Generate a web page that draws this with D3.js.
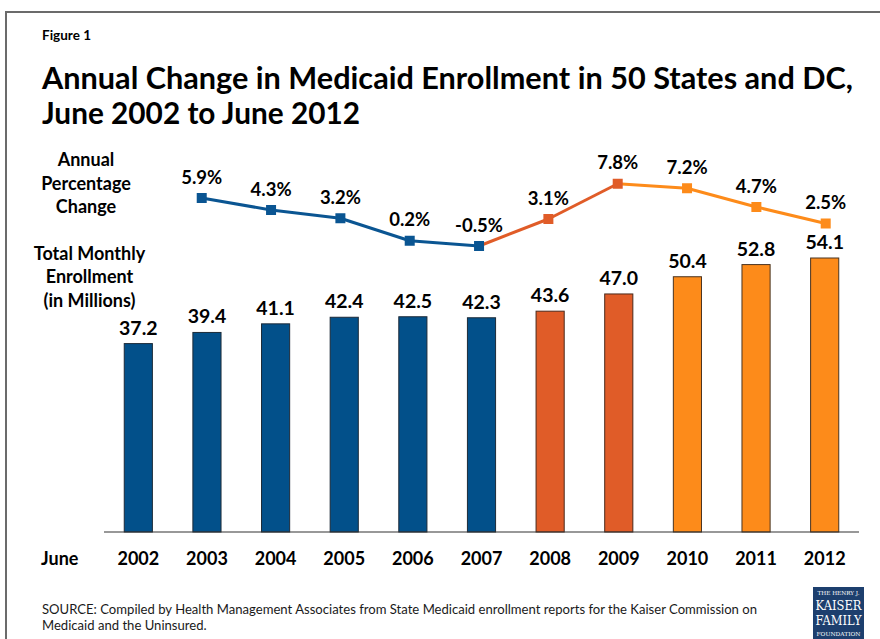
<!DOCTYPE html>
<html>
<head>
<meta charset="utf-8">
<script src="https://cdn.jsdelivr.net/npm/d3@7"></script>
<style>
  html, body { margin: 0; padding: 0; background: #fff; }
  svg { display: block; font-family: Lato, "Open Sans", sans-serif; }
</style>
</head>
<body>
<svg id="chart" width="880" height="639"></svg>
<script>
// ---- data ----
const years = ["2002","2003","2004","2005","2006","2007","2008","2009","2010","2011","2012"];
const enrollment = [37.2, 39.4, 41.1, 42.4, 42.5, 42.3, 43.6, 47.0, 50.4, 52.8, 54.1];
const pctYears = ["2003","2004","2005","2006","2007","2008","2009","2010","2011","2012"];
const pctChange = [5.9, 4.3, 3.2, 0.2, -0.5, 3.1, 7.8, 7.2, 4.7, 2.5];
const pctLabels = ["5.9%","4.3%","3.2%","0.2%","-0.5%","3.1%","7.8%","7.2%","4.7%","2.5%"];
const barLabels = ["37.2","39.4","41.1","42.4","42.5","42.3","43.6","47.0","50.4","52.8","54.1"];
const period = ["a","a","a","a","a","a","b","b","c","c","c"]; // colour group per year

const colors = { a: "#02508a", b: "#e05c28", c: "#fd8b1a" };
const lineColors = { a: "#0a5592", b: "#e05c28", c: "#fd8b1a" };
const strokes = { a: "#1c2a38", b: "#4a2a1c", c: "#4a3420" };

const svg = d3.select("#chart");

// frame
svg.append("path").attr("d", "M6,640 L6,12 L881,12")
  .attr("fill", "none").attr("stroke", "#6b6b6b").attr("stroke-width", 2);

// figure label + title
svg.append("text").attr("x", 42).attr("y", 39.5).attr("font-size", 13.5)
  .attr("font-weight", 700).attr("fill", "#000").text("Figure 1");

function fitText(sel, w) {
  sel.attr("textLength", w).attr("lengthAdjust", "spacingAndGlyphs");
}
const t1 = svg.append("text").attr("x", 42).attr("y", 88.5).attr("font-size", 30)
  .attr("font-weight", 700).attr("fill", "#000")
  .text("Annual Change in Medicaid Enrollment in 50 States and DC,");
fitText(t1, 811);
const t2 = svg.append("text").attr("x", 42).attr("y", 123.5).attr("font-size", 30)
  .attr("font-weight", 700).attr("fill", "#000").text("June 2002 to June 2012");
fitText(t2, 318);

// ---- scales ----
const x = d3.scaleBand().domain(years).range([104, 859]).paddingInner(0.59).paddingOuter(0.295);
const xLine = d3.scalePoint().domain(years).range([132.4, 825.7]);
const y = d3.scaleLinear().domain([0, 54.1]).range([532, 258]);
const yP = d3.scaleLinear().domain([-0.5, 7.8]).range([246, 183.75]);

// bars
const bars = years.map((yr, i) => ({ yr, v: enrollment[i], lab: barLabels[i], g: period[i] }));
svg.append("g").selectAll("rect").data(bars).join("rect")
  .attr("x", d => x(d.yr)).attr("width", x.bandwidth())
  .attr("y", d => y(d.v)).attr("height", d => y(0) - y(d.v))
  .attr("fill", d => colors[d.g]).attr("stroke", d => strokes[d.g]).attr("stroke-width", 1);

svg.append("g").selectAll("text").data(bars).join("text")
  .attr("x", d => x(d.yr) + x.bandwidth() / 2).attr("y", d => y(d.v) - 9)
  .attr("text-anchor", "middle").attr("font-size", 19.5).attr("font-weight", 700)
  .attr("fill", "#000").text(d => d.lab);

// axis baseline + year labels
const axis = d3.axisBottom(x).tickSize(0).tickPadding(0);
const ax = svg.append("g").attr("transform", "translate(0,532)").call(axis);
ax.select(".domain").attr("d", "M104,0H859").attr("stroke", "#333").attr("stroke-width", 1.2);
ax.selectAll(".tick text").attr("dy", 0).attr("y", 33).attr("font-size", 18)
  .attr("font-weight", 700).attr("fill", "#000").attr("font-family", "Lato, sans-serif");
svg.append("text").attr("x", 41).attr("y", 565).attr("font-size", 18)
  .attr("font-weight", 700).attr("fill", "#000").text("June");

// line
const pts = pctYears.map((yr, i) => ({ yr, v: pctChange[i], lab: pctLabels[i], g: period[years.indexOf(yr)] }));
const segs = d3.pairs(pts);
svg.append("g").selectAll("line").data(segs).join("line")
  .attr("x1", d => xLine(d[0].yr)).attr("y1", d => yP(d[0].v))
  .attr("x2", d => xLine(d[1].yr)).attr("y2", d => yP(d[1].v))
  .attr("stroke", d => lineColors[d[1].g]).attr("stroke-width", 3);
svg.append("g").selectAll("rect").data(pts).join("rect")
  .attr("x", d => xLine(d.yr) - 5).attr("y", d => yP(d.v) - 5)
  .attr("width", 10).attr("height", 10).attr("fill", d => lineColors[d.g]);
svg.append("g").selectAll("text").data(pts).join("text")
  .attr("x", d => xLine(d.yr)).attr("y", d => yP(d.v) - 14.5)
  .attr("text-anchor", "middle").attr("font-size", 18.5).attr("font-weight", 700)
  .attr("fill", "#000").text(d => d.lab);

// left labels
const leftA = ["Annual", "Percentage", "Change"];
const leftB = ["Total Monthly", "Enrollment", "(in Millions)"];
svg.append("g").selectAll("text").data(leftA).join("text")
  .attr("x", 86).attr("y", (d, i) => 166 + i * 23.5).attr("text-anchor", "middle")
  .attr("font-size", 18).attr("font-weight", 700).attr("fill", "#000").text(d => d);
svg.append("g").selectAll("text").data(leftB).join("text")
  .attr("x", 89.5).attr("y", (d, i) => 259.5 + i * 23.5).attr("text-anchor", "middle")
  .attr("font-size", 18).attr("font-weight", 700).attr("fill", "#000").text(d => d);

// source
const s1 = svg.append("text").attr("x", 42).attr("y", 613.5).attr("font-size", 13)
  .attr("fill", "#1a1a1a")
  .text("SOURCE: Compiled by Health Management Associates from State Medicaid enrollment reports for the Kaiser Commission on");
const sn1 = s1.node().getComputedTextLength();
const sr = 715 / sn1;
fitText(s1, 715);
const s2 = svg.append("text").attr("x", 42).attr("y", 629.5).attr("font-size", 13)
  .attr("fill", "#1a1a1a").text("Medicaid and the Uninsured.");
fitText(s2, s2.node().getComputedTextLength() * sr);

// logo
const logo = svg.append("g");
logo.append("rect").attr("x", 813).attr("y", 587).attr("width", 51).attr("height", 53).attr("fill", "#1d3f6e");
const lt = [
  { t: "THE HENRY J.", y: 595, s: 5.5, w: 42 },
  { t: "KAISER", y: 610, s: 12.5, w: 46 },
  { t: "FAMILY", y: 625, s: 12.5, w: 46 },
  { t: "FOUNDATION", y: 636, s: 5.5, w: 44 }
];
logo.selectAll("text").data(lt).join("text")
  .attr("x", 838.5).attr("y", d => d.y).attr("text-anchor", "middle")
  .attr("font-family", "'DejaVu Serif', 'Liberation Serif', serif")
  .attr("font-size", d => d.s).attr("fill", "#fff")
  .attr("textLength", d => d.w).attr("lengthAdjust", "spacingAndGlyphs").text(d => d.t);
</script>
</body>
</html>
